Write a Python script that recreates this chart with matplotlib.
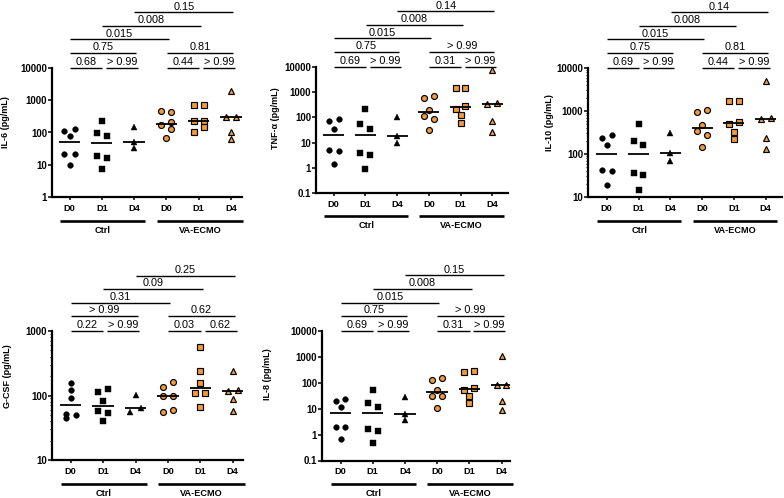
import numpy as np
import matplotlib
matplotlib.use('Agg')
import matplotlib.pyplot as plt
import matplotlib.transforms as mtransforms
from matplotlib.ticker import LogLocator, NullFormatter

plt.rcParams['font.family'] = ['Liberation Sans', 'DejaVu Sans']

# ---------------- data ----------------
days = ['D0', 'D1', 'D4']
groups = ['Ctrl', 'VA-ECMO']

il6_ctrl = [[115, 124, 78, 21, 21, 10],
            [224, 98, 77, 18.5, 16.5, 7.5],
            [145, 50, 33]]
il6_ecmo = [[457, 426, 165, 208, 130, 68],
            [720, 720, 235, 235, 102, 146],
            [1990, 300, 310, 107, 61]]
il6_p = ['0.68', '> 0.99', '0.44', '> 0.99', '0.75', '0.81', '0.015', '0.008', '0.15']

tnf_ctrl = [[70, 83, 36, 4.9, 4.5, 1.46],
            [222, 56, 36, 4.0, 3.3, 0.92],
            [104, 19, 10]]
tnf_ecmo = [[590, 700, 200, 118, 89, 33],
            [1470, 1470, 223, 275, 120, 62],
            [7400, 330, 380, 70, 26]]
tnf_p = ['0.69', '> 0.99', '0.31', '> 0.99', '0.75', '> 0.99', '0.015', '0.008', '0.14']

il10_ctrl = [[240, 272, 158, 41.7, 40, 18.7],
             [507, 200, 165, 37, 32, 14.3],
             [300, 105, 67]]
il10_ecmo = [[950, 1075, 480, 336, 281, 146],
             [1680, 1680, 507, 555, 324, 219],
             [5000, 660, 700, 235, 129]]
il10_p = ['0.69', '> 0.99', '0.44', '> 0.99', '0.75', '0.81', '0.015', '0.008', '0.14']

gcsf_ctrl = [[155, 122, 90, 52, 50, 44],
             [114, 126, 82, 57.5, 53, 40],
             [102, 55, 63]]
gcsf_ecmo = [[134, 160, 98, 98, 55, 60],
             [558, 243, 155, 108, 108, 67],
             [240, 117, 122, 88, 58]]
gcsf_p = ['0.22', '> 0.99', '0.03', '0.62', '> 0.99', '0.62', '0.31', '0.09', '0.25']

il8_ctrl = [[19.4, 23, 11.5, 1.96, 1.96, 0.69],
            [55, 16.7, 11.7, 1.69, 1.37, 0.48],
            [28.5, 6.4, 3.6]]
il8_ecmo = [[134, 155, 55, 32, 32, 10.7],
            [265, 290, 52, 63, 31, 17],
            [1070, 80, 82, 19, 8.7]]
il8_p = ['0.69', '> 0.99', '0.31', '> 0.99', '0.75', '> 0.99', '0.015', '0.008', '0.15']

# comparisons (group index pairs) and bracket level
comparisons = [(0, 1), (1, 2), (3, 4), (4, 5), (0, 2), (3, 5), (0, 3), (1, 4), (2, 5)]
comp_levels = [0, 0, 0, 0, 1, 1, 2, 3, 4]

panels = [
    dict(label='IL-6 (pg/mL)', ctrl=il6_ctrl, ecmo=il6_ecmo, p=il6_p,
         yticks=[1, 10, 100, 1000, 10000], yticklabels=['1', '10', '100', '1000', '10000']),
    dict(label='TNF-α (pg/mL)', ctrl=tnf_ctrl, ecmo=tnf_ecmo, p=tnf_p,
         yticks=[0.1, 1, 10, 100, 1000, 10000], yticklabels=['0.1', '1', '10', '100', '1000', '10000']),
    dict(label='IL-10 (pg/mL)', ctrl=il10_ctrl, ecmo=il10_ecmo, p=il10_p,
         yticks=[10, 100, 1000, 10000], yticklabels=['10', '100', '1000', '10000']),
    dict(label='G-CSF (pg/mL)', ctrl=gcsf_ctrl, ecmo=gcsf_ecmo, p=gcsf_p,
         yticks=[10, 100, 1000], yticklabels=['10', '100', '1000']),
    dict(label='IL-8 (pg/mL)', ctrl=il8_ctrl, ecmo=il8_ecmo, p=il8_p,
         yticks=[0.1, 1, 10, 100, 1000, 10000], yticklabels=['0.1', '1', '10', '100', '1000', '10000']),
]

# ---------------- layout (pixels) ----------------
W, H = 784, 498
# axis_x, first category x, category spacing, right end, top, bottom, ylabel offset, ylabel y frac
layout = [
    (52, 69.5, 32.3, 242, 68, 197, 46.5, 0.578),
    (316, 333.7, 31.7, 508, 67, 193, 40, 0.595),
    (588, 606.7, 31.8, 782, 68, 197, 39, 0.578),
    (52, 70.7, 32.4, 243, 331, 460, 44.5, 0.647),
    (322, 340.5, 32.2, 510, 331, 460.5, 55, 0.67),
]
bracket_px = [0, 15, 28.5, 42, 55.5]

ORANGE = '#F39A3A'
markers = ['o', 's', '^']
msize = {'o': 4.3, 's': 4.0, '^': 4.6}

fig = plt.figure(figsize=(W / 100, H / 100), dpi=100)


def spread(ax, vals, w=0.155, thr_px=5.2):
    vals = np.asarray(vals, float)
    pix = ax.transData.transform(np.column_stack([np.zeros(len(vals)), vals]))[:, 1]
    order = list(np.argsort(-vals, kind='stable'))
    clusters, cur = [], [order[0]]
    for a, b in zip(order[:-1], order[1:]):
        if abs(pix[a] - pix[b]) < thr_px:
            cur.append(b)
        else:
            clusters.append(cur)
            cur = [b]
    clusters.append(cur)
    off = np.zeros(len(vals))
    for c in clusters:
        if len(c) == 1:
            continue
        k0 = c.index(min(c))
        for k, idx in enumerate(c):
            off[idx] = (-1 if (k - k0) % 2 == 0 else 1) * w
    return off


for pan, (axx, x0, dx, xr, top, bot, ylo, ylf) in zip(panels, layout):
    hpx = bot - top
    wpx = xr - axx
    ax = fig.add_axes([axx / W, 1 - bot / H, wpx / W, hpx / H])
    ax.set_yscale('log')
    ax.set_xlim(-(x0 - axx) / dx, (xr - x0) / dx)
    ax.set_ylim(pan['yticks'][0], pan['yticks'][-1])
    for s in ['top', 'right']:
        ax.spines[s].set_visible(False)
    for s in ['left', 'bottom']:
        ax.spines[s].set_linewidth(1.6)

    ax.set_yticks(pan['yticks'])
    ax.set_yticklabels(pan['yticklabels'], fontsize=6.9, fontweight='bold')
    ax.yaxis.set_minor_locator(LogLocator(base=10, subs=np.arange(2, 10)))
    ax.yaxis.set_minor_formatter(NullFormatter())
    ax.tick_params(axis='y', which='major', length=2.6, width=1.1, pad=1)
    ax.tick_params(axis='y', which='minor', length=1.4, width=0.6)

    ax.set_xticks(range(6))
    ax.set_xticklabels(days * 2, fontsize=6.6, fontweight='bold')
    ax.tick_params(axis='x', length=2.4, width=1.1, pad=2.5)

    ax.set_ylabel(pan['label'], fontsize=6.5, fontweight='bold')
    ax.yaxis.set_label_coords(-ylo / wpx, ylf)
    ax.yaxis.label.set_va('center')

    series = pan['ctrl'] + pan['ecmo']
    for gi, vals in enumerate(series):
        mk = markers[gi % 3]
        off = spread(ax, vals)
        xs = gi + off
        if gi < 3:
            ax.plot(xs, vals, ls='none', marker=mk, ms=msize[mk] - 0.2,
                    mfc='black', mec='black', mew=0.3, clip_on=False, zorder=3)
        else:
            ax.plot(xs, vals, ls='none', marker=mk, ms=msize[mk],
                    mfc=ORANGE, mec='black', mew=0.85, clip_on=False, zorder=3)
        med = np.median(vals)
        ax.plot([gi - 0.33, gi + 0.33], [med, med], color='black', lw=1.3,
                solid_capstyle='butt', zorder=4)

    trans = mtransforms.blended_transform_factory(ax.transData, ax.transAxes)
    # group lines and labels
    for gname, (ga, gb) in zip(groups, [(-0.3, 2.35), (2.7, 5.37)]):
        yl = -23.5 / hpx
        ax.plot([ga, gb], [yl, yl], color='black', lw=1.9, transform=trans,
                clip_on=False, solid_capstyle='butt')
        ax.text((ga + gb) / 2, -33 / hpx, gname, transform=trans, ha='center',
                va='center', fontsize=6.6, fontweight='bold')

    # significance brackets
    for (i, j), lvl, ptxt in zip(comparisons, comp_levels, pan['p']):
        xa, xb = i + 0.01, j + 0.07
        if lvl == 0 and i in (1, 4):
            xa, xb = i + 0.13, j + 0.12
        elif lvl == 0:
            xb = j + 0.01
        yb = 1 + bracket_px[lvl] / hpx
        ax.plot([xa, xb], [yb, yb], color='black', lw=1.0, transform=trans,
                clip_on=False, solid_capstyle='butt')
        ax.text((xa + xb) / 2, yb + 0.6 / hpx, ptxt, transform=trans, ha='center',
                va='bottom', fontsize=7.8)

fig.savefig('out.png', dpi=100)
